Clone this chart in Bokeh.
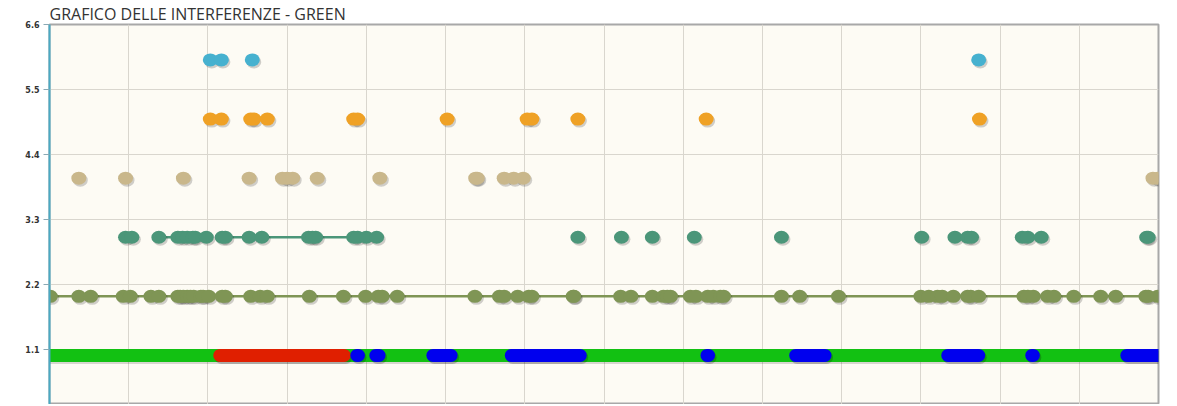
from bokeh.plotting import figure
from bokeh.models import Range1d, FixedTicker, Grid
from bokeh.embed import file_html
from bokeh.resources import INLINE

# ---------------- data ----------------
title_text = "GRAFICO DELLE INTERFERENZE - GREEN"
y_ticks = [1.1, 2.2, 3.3, 4.4, 5.5, 6.6]
x_grid_ticks = list(range(0, 15))
x_span = [0, 14]

cyan_level = 6.0
cyan_x = [2.03, 2.17, 2.56, 11.73]

orange_level = 5.0
orange_x = [2.03, 2.17, 2.54, 2.58, 2.75, 3.84, 3.89, 5.02, 6.03, 6.09, 6.67, 8.29, 11.74]

tan_level = 4.0
tan_x = [0.37, 0.96, 1.69, 2.52, 2.94, 3.00, 3.07, 3.38, 4.17, 5.38, 5.40, 5.74, 5.86, 5.98, 13.93, 13.99]

teal_level = 3.0
teal_x = [0.96, 1.04, 1.38, 1.62, 1.68, 1.74, 1.81, 1.84, 1.98, 2.18, 2.22, 2.52, 2.68, 3.27, 3.32,
          3.36, 3.84, 3.89, 4.00, 4.13, 6.67, 7.22, 7.61, 8.14, 9.24, 11.01, 11.43, 11.59, 11.64,
          12.28, 12.35, 12.52, 13.85, 13.87]
# connected run id of each point (0 = not joined by a line)
teal_run = [0, 0, 1, 1, 1, 1, 1, 1, 1, 2, 2, 2, 2, 2, 2,
            2, 2, 2, 2, 2, 0, 0, 0, 0, 0, 0, 0, 0, 0,
            0, 0, 0, 0, 0]

olive_level = 2.0
olive_x = [0.01, 0.37, 0.52, 0.93, 1.02, 1.28, 1.38, 1.62, 1.65, 1.69, 1.74, 1.78, 1.82, 1.91, 1.94,
           2.01, 2.18, 2.22, 2.54, 2.66, 2.75, 3.28, 3.71, 3.99, 4.15, 4.20, 4.39, 5.37, 5.68, 5.74,
           5.91, 6.05, 6.09, 6.61, 6.62, 7.21, 7.34, 7.61, 7.75, 7.80, 7.84, 8.09, 8.16, 8.31, 8.38,
           8.47, 8.51, 9.24, 9.47, 9.96, 11.00, 11.10, 11.21, 11.27, 11.41, 11.59, 11.63, 11.73,
           12.30, 12.35, 12.42, 12.60, 12.68, 12.93, 13.27, 13.46, 13.84, 13.87, 13.99]

bar_level = 1.0
red_start = [2.15]
red_end = [3.72]
blue_start = [3.88, 4.12, 4.84, 5.83, 8.30, 9.42, 11.34, 12.40, 13.60]
blue_end = [3.90, 4.16, 5.07, 6.70, 8.32, 9.79, 11.73, 12.42, 14.00]

# ---------------- styles ----------------
W, H = 1168, 404
BL, BR, BT = 49, 10, 18
y_lo, y_hi = 0.17, 6.6
fw = W - BL - BR
fh = H - 24
px_x = fw / (x_span[1] - x_span[0])
px_y = fh / (y_hi - y_lo)
sdx = 1.5 / px_x
sdy = -2.0 / px_y

p = figure(width=W, height=H, output_backend="svg", toolbar_location=None,
           x_range=Range1d(x_span[0], x_span[1]), y_range=Range1d(y_lo, y_hi),
           x_axis_type=None, min_border_left=BL, min_border_right=BR,
           min_border_top=BT, min_border_bottom=0,
           background_fill_color="#fdfbf4", border_fill_color="white",
           outline_line_color="#a8a8a8", outline_line_width=2)

p.title.text = title_text
p.title.text_font = "Open Sans"
p.title.text_font_size = "16px"
p.title.text_font_style = "normal"
p.title.text_color = "#333333"
p.title.standoff = 0

p.add_layout(Grid(dimension=0, ticker=FixedTicker(ticks=x_grid_ticks),
                  grid_line_color="#d9d6ce", grid_line_width=1))
p.ygrid.ticker = FixedTicker(ticks=y_ticks)
p.ygrid.grid_line_color = "#d9d6ce"
p.ygrid.grid_line_width = 1

ax = p.yaxis[0]
ax.ticker = FixedTicker(ticks=y_ticks)
ax.axis_line_color = "#4aa9c3"
ax.axis_line_width = 2
ax.major_tick_line_color = "#8aa9b4"
ax.major_tick_out = 6
ax.major_tick_in = 0
ax.minor_tick_line_color = None
ax.major_label_text_font = "DejaVu Sans"
ax.major_label_text_font_size = "8px"
ax.major_label_text_font_style = "bold"
ax.major_label_text_color = "#333333"
ax.major_label_standoff = 4


def dots(xs, level, color):
    ys = [level] * len(xs)
    p.ellipse([x + sdx for x in xs], [y + sdy for y in ys], width=15, height=13,
              width_units="screen", height_units="screen",
              fill_color="#000000", fill_alpha=0.18, line_color=None)
    p.ellipse(xs, ys, width=15, height=13, width_units="screen", height_units="screen",
              fill_color=color, line_color=None)


# olive line + points
p.line(olive_x, [olive_level] * len(olive_x), line_color="#7f9555", line_width=2.5)

# teal runs
runs = sorted(set(r for r in teal_run if r > 0))
for r in runs:
    xs = [x for x, rr in zip(teal_x, teal_run) if rr == r]
    p.line(xs, [teal_level] * len(xs), line_color="#4b9679", line_width=2.5)

dots(olive_x, olive_level, "#7f9555")
dots(teal_x, teal_level, "#4b9679")
dots(tan_x, tan_level, "#c9b78b")
dots(orange_x, orange_level, "#efa125")
dots(cyan_x, cyan_level, "#46b1cf")

# bottom status bar
p.line(x_span, [bar_level + sdy] * 2, line_color="#000000", line_alpha=0.15, line_width=13)
p.line(x_span, [bar_level] * 2, line_color="#12c112", line_width=13)
p.segment([s + sdx for s in red_start], [bar_level + sdy] * len(red_start),
          [e + sdx for e in red_end], [bar_level + sdy] * len(red_end),
          line_color="#000000", line_alpha=0.2, line_width=13, line_cap="round")
p.segment(red_start, [bar_level] * len(red_start), red_end, [bar_level] * len(red_end),
          line_color="#e01f00", line_width=13, line_cap="round")
p.segment([s + sdx for s in blue_start], [bar_level + sdy] * len(blue_start),
          [e + sdx for e in blue_end], [bar_level + sdy] * len(blue_end),
          line_color="#000000", line_alpha=0.2, line_width=13, line_cap="round")
p.segment(blue_start, [bar_level] * len(blue_start), blue_end, [bar_level] * len(blue_end),
          line_color="#0000ee", line_width=13, line_cap="round")

open("out.html", "w").write(file_html(p, INLINE))
